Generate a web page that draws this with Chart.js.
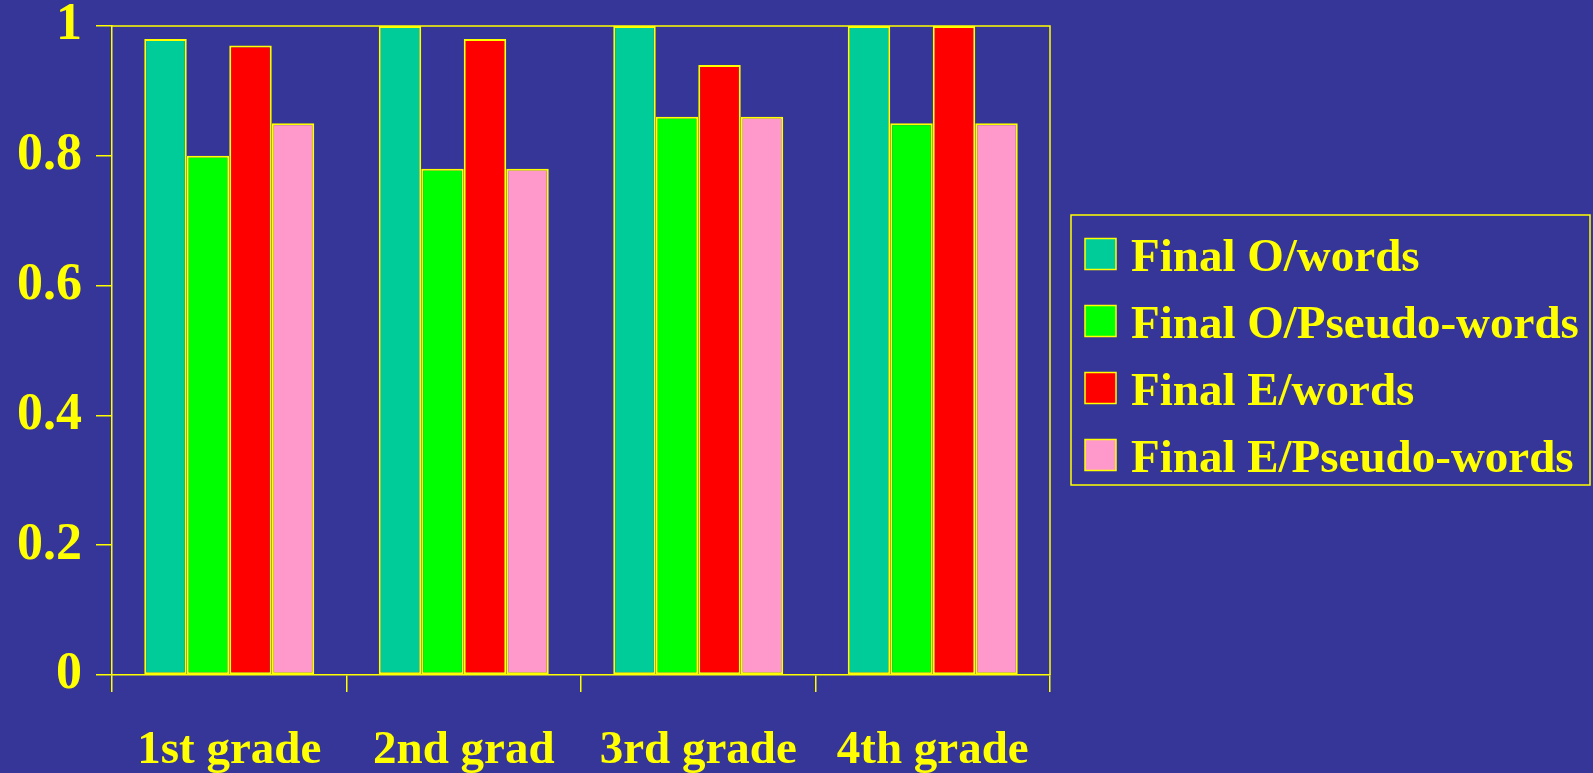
<!DOCTYPE html>
<html>
<head>
<meta charset="utf-8">
<title>Final O / Final E accuracy by grade</title>
<script src="https://cdn.jsdelivr.net/npm/chart.js@4/dist/chart.umd.min.js"></script>
<style>
  html, body { margin: 0; padding: 0; background: #363698; }
  canvas { display: block; }
</style>
</head>
<body>
<canvas id="chart" width="1593" height="773"></canvas>
<script>
// Grades on the x axis
const categories = ['1st grade', '2nd grad', '3rd grade', '4th grade'];

// Proportion correct per condition
const finalOWords = [0.98, 1.00, 1.00, 1.00];
const finalOPseudo = [0.80, 0.78, 0.86, 0.85];
const finalEWords = [0.97, 0.98, 0.94, 1.00];
const finalEPseudo = [0.85, 0.78, 0.86, 0.85];

const seriesNames = ['Final O/words', 'Final O/Pseudo-words', 'Final E/words', 'Final E/Pseudo-words'];
const yTicks = [0, 0.2, 0.4, 0.6, 0.8, 1];
const yTickLabels = ['0', '0.2', '0.4', '0.6', '0.8', '1'];

const YELLOW = '#FFFF00';
const BG = '#363698';
const FONT = '"Liberation Serif", "Times New Roman", serif';
const colors = ['#00CC99', '#00FF00', '#FF0000', '#FF99CC'];

// Paint the slide background behind everything
const backgroundPlugin = {
  id: 'slideBackground',
  beforeDraw(chart) {
    const ctx = chart.ctx;
    ctx.save();
    ctx.fillStyle = BG;
    ctx.fillRect(0, 0, chart.width, chart.height);
    ctx.restore();
  }
};

// Close the plot frame on top and right
const framePlugin = {
  id: 'plotFrame',
  afterDatasetsDraw(chart) {
    const { ctx, chartArea: a } = chart;
    ctx.save();
    ctx.strokeStyle = YELLOW;
    ctx.lineWidth = 1.5;
    ctx.beginPath();
    ctx.moveTo(a.left, a.top);
    ctx.lineTo(a.right, a.top);
    ctx.lineTo(a.right, a.bottom);
    ctx.stroke();
    ctx.restore();
  }
};

// Boxed legend to the right of the plot
const boxedLegend = {
  id: 'boxedLegend',
  afterDraw(chart) {
    const ctx = chart.ctx;
    const box = { x: 1071, y: 215, w: 519, h: 270 };
    ctx.save();
    ctx.strokeStyle = YELLOW;
    ctx.lineWidth = 1.5;
    ctx.strokeRect(box.x, box.y, box.w, box.h);
    ctx.font = 'bold 47px ' + FONT;
    ctx.textAlign = 'left';
    ctx.textBaseline = 'alphabetic';
    chart.data.datasets.forEach((ds, i) => {
      const cy = 254 + i * 67;
      ctx.fillStyle = ds.backgroundColor;
      ctx.fillRect(1085, cy - 15.5, 31, 31);
      ctx.strokeStyle = YELLOW;
      ctx.lineWidth = 1.5;
      ctx.strokeRect(1085, cy - 15.5, 31, 31);
      ctx.fillStyle = YELLOW;
      ctx.fillText(ds.label, 1131, cy + 16.5);
    });
    ctx.restore();
  }
};

const seriesValues = [finalOWords, finalOPseudo, finalEWords, finalEPseudo];

new Chart(document.getElementById('chart'), {
  type: 'bar',
  data: {
    labels: categories,
    datasets: seriesValues.map((vals, i) => ({
      label: seriesNames[i],
      data: vals,
      backgroundColor: colors[i],
      borderColor: YELLOW,
      borderWidth: 2,
      borderSkipped: false,
      categoryPercentage: 0.725,
      barPercentage: 1.0
    }))
  },
  options: {
    responsive: false,
    animation: false,
    devicePixelRatio: 1,
    layout: { autoPadding: false, padding: { left: 0, right: 543, top: 26, bottom: 0 } },
    plugins: {
      legend: { display: false },
      tooltip: { enabled: false }
    },
    scales: {
      x: {
        grid: {
          display: true,
          offset: true,
          drawOnChartArea: false,
          drawTicks: true,
          tickLength: 17,
          color: YELLOW,
          lineWidth: 1.5
        },
        border: { display: true, color: YELLOW, width: 1.5 },
        ticks: {
          color: YELLOW,
          font: { family: FONT, size: 47, weight: 'bold', lineHeight: 1 },
          padding: 35,
          maxRotation: 0,
          autoSkip: false
        },
        afterFit(scale) {
          scale.height = 98;
          scale.paddingLeft = 0;
          scale.paddingRight = 0;
        }
      },
      y: {
        min: 0,
        max: 1,
        afterBuildTicks(scale) { scale.ticks = yTicks.map(v => ({ value: v })); },
        grid: {
          display: true,
          drawOnChartArea: false,
          drawTicks: true,
          tickLength: 16,
          color: YELLOW,
          lineWidth: 1.5
        },
        border: { display: true, color: YELLOW, width: 1.5 },
        ticks: {
          color: YELLOW,
          font: { family: FONT, size: 52, weight: 'bold', lineHeight: 1 },
          padding: 14,
          callback: (value, index) => yTickLabels[index]
        },
        afterFit(scale) {
          scale.width = 112;
          scale.paddingTop = 0;
          scale.paddingBottom = 0;
        }
      }
    }
  },
  plugins: [backgroundPlugin, framePlugin, boxedLegend]
});
</script>
</body>
</html>
